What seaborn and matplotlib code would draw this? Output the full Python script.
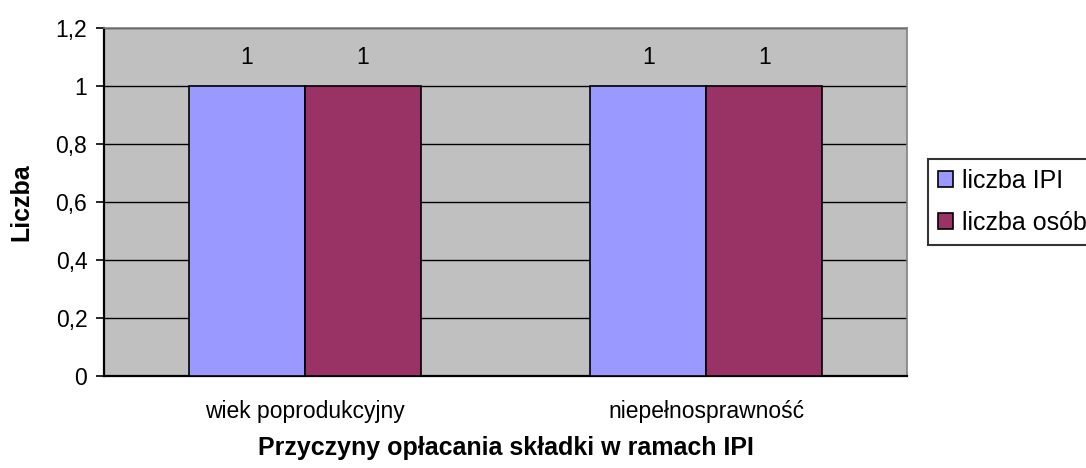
import pandas as pd
import matplotlib.pyplot as plt
import seaborn as sns

categories = ["wiek poprodukcyjny", "niepełnosprawność"]
series = ["liczba IPI", "liczba osób"]
liczba_ipi = [1, 1]
liczba_osob = [1, 1]
yticks = [0, 0.2, 0.4, 0.6, 0.8, 1, 1.2]
ytick_labels = ["0", "0,2", "0,4", "0,6", "0,8", "1", "1,2"]

df = pd.DataFrame({
    "kategoria": categories * 2,
    "seria": [series[0]] * 2 + [series[1]] * 2,
    "wartosc": liczba_ipi + liczba_osob,
})

sns.set_style("white")
plt.rcParams['font.family'] = ['Liberation Sans', 'DejaVu Sans']
plt.rcParams['text.color'] = 'black'
plt.rcParams['xtick.color'] = 'black'
plt.rcParams['ytick.color'] = 'black'
plt.rcParams['axes.labelcolor'] = 'black'

fs = 16.5      # ticks and value labels
fs_lab = 18    # axis titles and legend

fig = plt.figure(figsize=(10.86, 4.68), dpi=100)
ax = fig.add_axes([104 / 1086, 92 / 468, 803 / 1086, 348 / 468])
ax.set_facecolor("#C0C0C0")

sns.barplot(data=df, x="kategoria", y="wartosc", hue="seria",
            palette=["#9999FF", "#993366"], saturation=1, width=0.578, gap=0,
            edgecolor="black", linewidth=1.2, ax=ax, zorder=3)

ax.set_ylim(0, 1.2)
ax.set_xlim(-0.5, 1.5)
ax.set_yticks(yticks)
ax.set_yticklabels(ytick_labels, fontsize=fs)
ax.yaxis.grid(True, color="black", linewidth=1, zorder=0)
ax.set_axisbelow(True)

# category ticks on boundaries, labels in centres
ax.set_xticks([-0.5, 0.5, 1.5])
ax.set_xticklabels([])
ax.set_xticks([0, 1], minor=True)
ax.set_xticklabels(categories, minor=True, fontsize=fs)
ax.tick_params(axis="x", which="major", direction="out", length=8, width=1.2, color="black")
ax.tick_params(axis="x", which="minor", length=0, pad=17)
ax.tick_params(axis="y", direction="out", length=6, width=1.2, color="black", left=True, pad=6)

for side in ["left", "bottom"]:
    ax.spines[side].set_color("black")
    ax.spines[side].set_linewidth(1.6)
for side in ["top", "right"]:
    ax.spines[side].set_visible(True)
    ax.spines[side].set_color("#808080")
    ax.spines[side].set_linewidth(1.2)

for cont in ax.containers:
    ax.bar_label(cont, labels=[f"{v:g}" for v in cont.datavalues], padding=12, fontsize=fs, zorder=4)

ax.set_ylabel("Liczba", fontsize=fs_lab, fontweight="bold", labelpad=16)
ax.set_xlabel("Przyczyny opłacania składki w ramach IPI", fontsize=fs_lab, fontweight="bold", labelpad=10)

handles, labels = ax.get_legend_handles_labels()
ax.legend_.remove()
leg = fig.legend(handles, labels, loc="upper left", bbox_to_anchor=(928 / 1086, 1 - 159 / 468),
                 fontsize=fs_lab, frameon=True, fancybox=False, edgecolor="black",
                 handlelength=0.6, handleheight=0.6, handletextpad=0.35,
                 borderpad=0.4, labelspacing=0.7, borderaxespad=0)
leg.get_frame().set_linewidth(1.5)
for h in leg.legend_handles:
    h.set_edgecolor("black")
    h.set_linewidth(1.2)

fig.savefig("out.png", dpi=100)
